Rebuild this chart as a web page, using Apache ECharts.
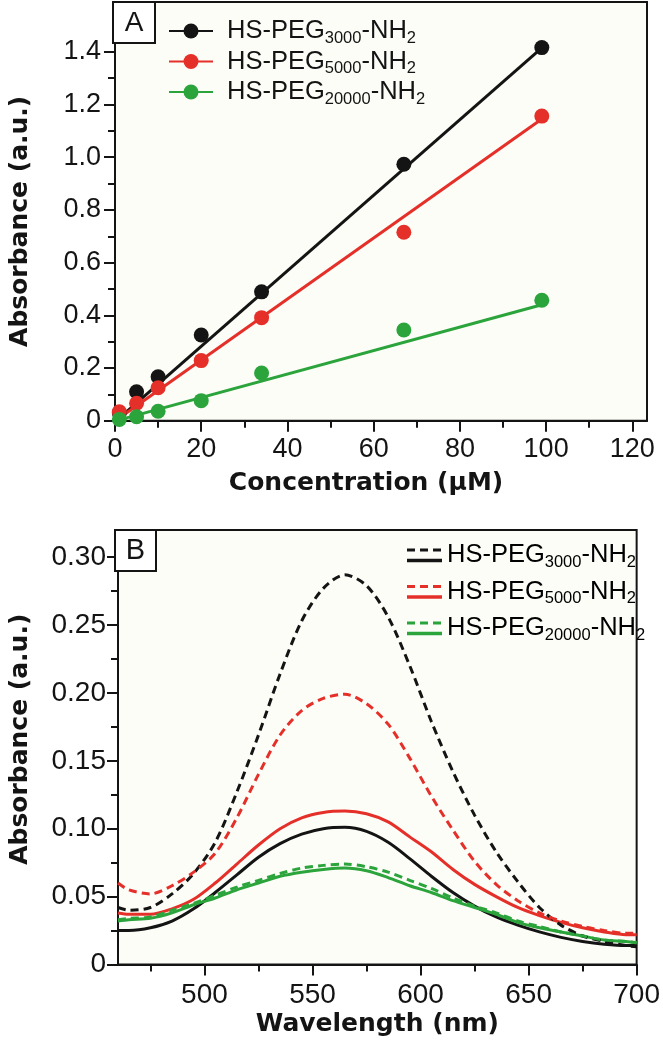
<!DOCTYPE html>
<html>
<head>
<meta charset="utf-8">
<script src="https://cdn.jsdelivr.net/npm/echarts@6/dist/echarts.min.js"></script>
<style>
html,body{margin:0;padding:0;background:#ffffff;}
#chart{width:663px;height:1050px;}
</style>
</head>
<body>
<div id="chart"></div>
<script>
// ---------- Panel A data ----------
const concentrations = [1, 5, 10, 20, 34, 67, 99];
const abs3000 = [0.030, 0.110, 0.167, 0.325, 0.489, 0.973, 1.416];
const abs5000 = [0.034, 0.066, 0.125, 0.228, 0.391, 0.715, 1.156];
const abs20000 = [0.005, 0.015, 0.036, 0.076, 0.181, 0.344, 0.457];
const fitConc = [1, 99];
const fit3000 = [0.010, 1.415];
const fit5000 = [0.010, 1.145];
const fit20000 = [0.003, 0.440];

const xTicksA = [0, 20, 40, 60, 80, 100, 120];
const xMinorA = [10, 30, 50, 70, 90, 110];
const yTicksA = [0, 0.2, 0.4, 0.6, 0.8, 1.0, 1.2, 1.4];
const yTickLabelsA = ['0', '0.2', '0.4', '0.6', '0.8', '1.0', '1.2', '1.4'];
const yMinorA = [0.1, 0.3, 0.5, 0.7, 0.9, 1.1, 1.3];

// ---------- Panel B data ----------
const wavelengths = [460, 465, 475, 485, 495, 505, 515, 525, 535, 545, 555, 565, 575, 585, 595, 605, 615, 625, 635, 645, 655, 665, 675, 685, 695, 700];
const dashed3000 = [0.042, 0.040, 0.042, 0.052, 0.067, 0.090, 0.127, 0.169, 0.214, 0.253, 0.277, 0.287, 0.279, 0.256, 0.220, 0.179, 0.142, 0.110, 0.083, 0.061, 0.042, 0.029, 0.021, 0.017, 0.014, 0.013];
const dashed5000 = [0.060, 0.055, 0.052, 0.058, 0.068, 0.082, 0.108, 0.140, 0.169, 0.187, 0.196, 0.199, 0.192, 0.177, 0.152, 0.124, 0.099, 0.076, 0.059, 0.047, 0.038, 0.032, 0.028, 0.025, 0.023, 0.023];
const dashed20000 = [0.033, 0.034, 0.035, 0.040, 0.045, 0.051, 0.057, 0.062, 0.067, 0.071, 0.073, 0.074, 0.072, 0.068, 0.062, 0.056, 0.049, 0.043, 0.038, 0.032, 0.028, 0.024, 0.021, 0.018, 0.017, 0.016];
const solid3000 = [0.025, 0.025, 0.027, 0.032, 0.041, 0.053, 0.066, 0.079, 0.089, 0.096, 0.100, 0.101, 0.098, 0.090, 0.078, 0.065, 0.053, 0.043, 0.035, 0.029, 0.024, 0.020, 0.017, 0.015, 0.014, 0.014];
const solid5000 = [0.038, 0.037, 0.037, 0.041, 0.048, 0.060, 0.074, 0.088, 0.100, 0.108, 0.112, 0.113, 0.111, 0.105, 0.094, 0.083, 0.070, 0.059, 0.050, 0.042, 0.036, 0.031, 0.027, 0.024, 0.022, 0.022];
const solid20000 = [0.032, 0.033, 0.034, 0.038, 0.044, 0.049, 0.055, 0.060, 0.065, 0.068, 0.070, 0.071, 0.069, 0.064, 0.058, 0.053, 0.047, 0.042, 0.037, 0.031, 0.027, 0.024, 0.021, 0.018, 0.017, 0.016];

const xTicksB = [500, 550, 600, 650, 700];
const xMinorB = [475, 525, 575, 625, 675];
const yTicksB = [0, 0.05, 0.10, 0.15, 0.20, 0.25, 0.30];
const yTickLabelsB = ['0', '0.05', '0.10', '0.15', '0.20', '0.25', '0.30'];
const yMinorB = [0.025, 0.075, 0.125, 0.175, 0.225, 0.275];

const seriesNames = ['HS-PEG3000-NH2', 'HS-PEG5000-NH2', 'HS-PEG20000-NH2'];
const richNames = ['{m|HS-PEG}{s|3000}{m|-NH}{s|2}', '{m|HS-PEG}{s|5000}{m|-NH}{s|2}', '{m|HS-PEG}{s|20000}{m|-NH}{s|2}'];

// ---------- styles ----------
const BLACK = '#141414', RED = '#e5302a', GREEN = '#2ca43c';
const colors = [BLACK, RED, GREEN];
const fontMain = "'Liberation Sans', Arial, Helvetica, sans-serif";
const fontBold = "'DejaVu Sans', 'Liberation Sans', sans-serif";
const richStyle = {
  m: { fontSize: 25.5, fontFamily: fontMain, color: BLACK },
  s: { fontSize: 16.5, fontFamily: fontMain, color: BLACK, padding: [14, 0, 0, 0] }
};

function pairs(xs, ys) { return xs.map((x, i) => [x, ys[i]]); }
function labeler(ticks, labels) {
  return function (v) {
    const i = ticks.findIndex(t => Math.abs(t - v) < 1e-9);
    return i >= 0 ? labels[i] : '';
  };
}

function majorAxis(extra, labelSize) {
  return Object.assign({
    type: 'value',
    splitLine: { show: false },
    axisLine: { show: true, onZero: false, lineStyle: { color: BLACK, width: 2 } },
    axisTick: { show: true, inside: false, length: 11, lineStyle: { color: BLACK, width: 2 } },
    axisLabel: { fontSize: labelSize, fontFamily: fontMain, color: BLACK },
    nameTextStyle: { fontFamily: fontBold, fontWeight: 'bold', fontSize: 25, color: BLACK }
  }, extra);
}
function minorAxis(extra, vals) {
  return Object.assign({
    type: 'value',
    splitLine: { show: false },
    axisLine: { show: false, onZero: false },
    axisTick: { show: true, inside: false, length: 7, customValues: vals, lineStyle: { color: BLACK, width: 2 } },
    axisLabel: { show: false }
  }, extra);
}

const xA = majorAxis({ gridIndex: 0, position: 'bottom', min: 0, max: 123.4, name: 'Concentration (µM)', nameLocation: 'middle', nameGap: 50 }, 27);
xA.axisTick.customValues = xTicksA;
xA.axisLabel.customValues = xTicksA;
xA.axisLabel.margin = 15;
xA.axisLabel.formatter = v => String(v);
xA.nameTextStyle.padding = [0, 30, 0, 0];

const yA = majorAxis({ gridIndex: 0, position: 'left', min: 0, max: 1.589, name: 'Absorbance (a.u.)', nameLocation: 'middle', nameGap: 82 }, 27);
yA.axisTick.customValues = yTicksA;
yA.axisLabel.customValues = yTicksA;
yA.axisLabel.margin = 14;
yA.axisLabel.formatter = labeler(yTicksA, yTickLabelsA);
yA.nameTextStyle.padding = [0, 20, 0, 0];

const xB = majorAxis({ gridIndex: 1, position: 'bottom', min: 460, max: 700, name: 'Wavelength (nm)', nameLocation: 'middle', nameGap: 47 }, 28);
xB.axisTick.customValues = xTicksB;
xB.axisLabel.customValues = xTicksB;
xB.axisLabel.margin = 17;
xB.axisLabel.formatter = v => String(v);

const yB = majorAxis({ gridIndex: 1, position: 'left', min: 0, max: 0.32, name: 'Absorbance (a.u.)', nameLocation: 'middle', nameGap: 85 }, 28);
yB.axisTick.customValues = yTicksB;
yB.axisLabel.customValues = yTicksB;
yB.axisLabel.margin = 12;
yB.axisLabel.formatter = labeler(yTicksB, yTickLabelsB);
yB.nameTextStyle.padding = [0, 0, 0, 16];

const absA = [abs3000, abs5000, abs20000];
const fitA = [fit3000, fit5000, fit20000];
const series = [];
for (let i = 0; i < 3; i++) {
  series.push({
    name: seriesNames[i], type: 'line', xAxisIndex: 0, yAxisIndex: 0,
    data: pairs(fitConc, fitA[i]), symbol: 'circle', showSymbol: false, symbolSize: 15,
    lineStyle: { color: colors[i], width: 3 }, itemStyle: { color: colors[i] },
    z: 2 + i, silent: true
  });
}
for (let i = 0; i < 3; i++) {
  series.push({
    name: seriesNames[i] + ' data', type: 'scatter', xAxisIndex: 0, yAxisIndex: 0,
    data: pairs(concentrations, absA[i]), symbol: 'circle', symbolSize: 15,
    itemStyle: { color: colors[i], opacity: 1 }, z: 10 + i, silent: true
  });
}
const dashedB = [dashed3000, dashed5000, dashed20000];
const solidB = [solid3000, solid5000, solid20000];
for (let i = 0; i < 3; i++) {
  series.push({
    name: seriesNames[i] + ' solid', type: 'line', xAxisIndex: 2, yAxisIndex: 2,
    data: pairs(wavelengths, solidB[i]), showSymbol: false, smooth: 0.3,
    lineStyle: { color: colors[i], width: 3 }, z: 3, silent: true
  });
}
for (let i = 0; i < 3; i++) {
  series.push({
    name: seriesNames[i] + ' dashed', type: 'line', xAxisIndex: 2, yAxisIndex: 2,
    data: pairs(wavelengths, dashedB[i]), showSymbol: false, smooth: 0.3,
    lineStyle: { color: colors[i], width: 3, type: [8, 5] }, z: 4, silent: true
  });
}

// legend for panel B (dashed over solid samples)
const legendB = [];
const rowY = [555, 591.5, 628];
for (let i = 0; i < 3; i++) {
  legendB.push({ type: 'line', shape: { x1: 407, y1: rowY[i] - 5, x2: 442, y2: rowY[i] - 5 }, style: { stroke: colors[i], lineWidth: 3, lineDash: [8, 5] }, z: 100 });
  legendB.push({ type: 'line', shape: { x1: 407, y1: rowY[i] + 5.5, x2: 442, y2: rowY[i] + 5.5 }, style: { stroke: colors[i], lineWidth: 3.5 }, z: 100 });
  legendB.push({ type: 'text', x: 447, y: rowY[i], style: { text: richNames[i], rich: richStyle, verticalAlign: 'middle', align: 'left' }, z: 100 });
}

const option = {
  animation: false,
  backgroundColor: '#ffffff',
  grid: [
    { left: 113, top: 2, right: 16, bottom: 629.3, show: true, backgroundColor: '#fdfdf8', borderColor: BLACK, borderWidth: 2 },
    { left: 115, top: 530, right: 20.5, bottom: 85.5, show: true, backgroundColor: '#fdfdf8', borderColor: BLACK, borderWidth: 2 }
  ],
  xAxis: [
    xA,
    minorAxis({ gridIndex: 0, position: 'bottom', min: 0, max: 123.4 }, xMinorA),
    xB,
    minorAxis({ gridIndex: 1, position: 'bottom', min: 460, max: 700 }, xMinorB)
  ],
  yAxis: [
    yA,
    minorAxis({ gridIndex: 0, position: 'left', min: 0, max: 1.589 }, yMinorA),
    yB,
    minorAxis({ gridIndex: 1, position: 'left', min: 0, max: 0.32 }, yMinorB)
  ],
  legend: {
    data: seriesNames, orient: 'vertical', left: 168, top: 18, padding: 0,
    itemWidth: 44, itemHeight: 18.75, itemGap: 2, selectedMode: false,
    formatter: name => richNames[seriesNames.indexOf(name)],
    textStyle: { fontSize: 25.5, fontFamily: fontMain, color: BLACK, padding: [0, 0, 0, 9], rich: richStyle }
  },
  graphic: [
    { type: 'rect', shape: { x: 113, y: 2, width: 42, height: 41 }, style: { fill: '#ffffff', stroke: BLACK, lineWidth: 2 }, z: 100 },
    { type: 'text', x: 134, y: 23, style: { text: 'A', fontSize: 28, fontFamily: fontMain, fill: BLACK, align: 'center', verticalAlign: 'middle' }, z: 101 },
    { type: 'rect', shape: { x: 115, y: 530, width: 41, height: 41 }, style: { fill: '#ffffff', stroke: BLACK, lineWidth: 2 }, z: 100 },
    { type: 'text', x: 135.5, y: 551, style: { text: 'B', fontSize: 29, fontFamily: fontMain, fill: BLACK, align: 'center', verticalAlign: 'middle' }, z: 101 }
  ].concat(legendB),
  series: series
};

const chart = echarts.init(document.getElementById('chart'), null, { renderer: 'canvas' });
chart.setOption(option);
</script>
</body>
</html>
